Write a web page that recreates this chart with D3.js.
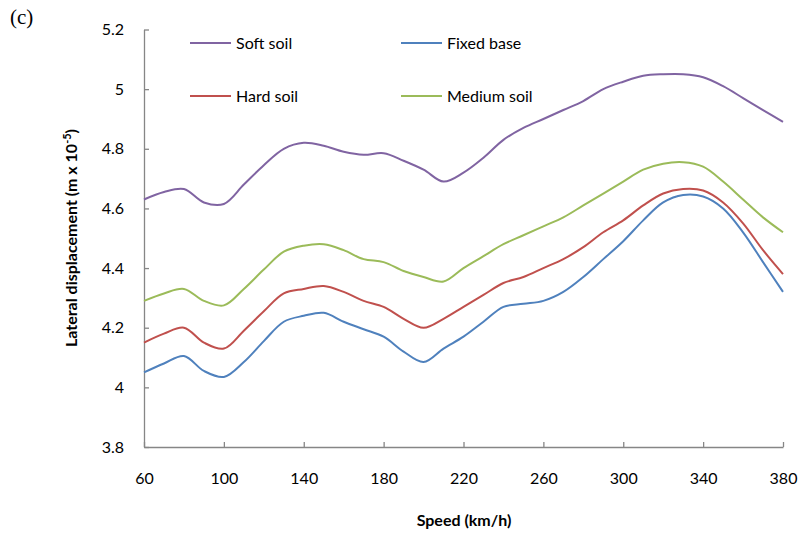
<!DOCTYPE html>
<html>
<head>
<meta charset="utf-8">
<script src="https://cdn.jsdelivr.net/npm/d3@7"></script>
<style>
  body { margin: 0; background: #fff; }
  text { font-family: Lato, "Open Sans", sans-serif; }
</style>
</head>
<body>
<svg id="chart" width="803" height="538"></svg>
<script>
const speeds = [60, 70, 80, 90, 100, 110, 120, 130, 140, 150, 160, 170, 180, 190, 200, 210, 220,
  230, 240, 250, 260, 270, 280, 290, 300, 310, 320, 330, 340, 350, 360, 370, 380];

const softSoil = [4.63, 4.655, 4.665, 4.62, 4.615, 4.68, 4.745, 4.80, 4.82, 4.81, 4.79, 4.78, 4.785,
  4.76, 4.73, 4.69, 4.72, 4.77, 4.83, 4.87, 4.90, 4.93, 4.96, 5.00, 5.025, 5.045, 5.05, 5.05,
  5.04, 5.01, 4.97, 4.93, 4.89];
const fixedBase = [4.05, 4.08, 4.105, 4.055, 4.035, 4.085, 4.155, 4.22, 4.24, 4.25, 4.22, 4.195, 4.17,
  4.12, 4.085, 4.13, 4.17, 4.22, 4.27, 4.28, 4.29, 4.32, 4.37, 4.43, 4.49, 4.56, 4.62, 4.645,
  4.64, 4.6, 4.52, 4.42, 4.32];
const hardSoil = [4.15, 4.18, 4.20, 4.15, 4.13, 4.19, 4.255, 4.315, 4.33, 4.34, 4.32, 4.29, 4.27,
  4.23, 4.20, 4.23, 4.27, 4.31, 4.35, 4.37, 4.40, 4.43, 4.47, 4.52, 4.56, 4.61, 4.65, 4.665,
  4.66, 4.62, 4.55, 4.46, 4.38];
const mediumSoil = [4.29, 4.315, 4.33, 4.29, 4.275, 4.33, 4.395, 4.455, 4.475, 4.48, 4.46, 4.43, 4.42,
  4.39, 4.37, 4.355, 4.40, 4.44, 4.48, 4.51, 4.54, 4.57, 4.61, 4.65, 4.69, 4.73, 4.75, 4.755,
  4.74, 4.69, 4.63, 4.57, 4.52];

const xTicks = [60, 100, 140, 180, 220, 260, 300, 340, 380];
const yTicks = [3.8, 4, 4.2, 4.4, 4.6, 4.8, 5, 5.2];

const series = [
  { name: "Soft soil", values: softSoil, color: "#8064A2" },
  { name: "Fixed base", values: fixedBase, color: "#4F81BD" },
  { name: "Hard soil", values: hardSoil, color: "#C0504D" },
  { name: "Medium soil", values: mediumSoil, color: "#9BBB59" }
];

const svg = d3.select("#chart");
const margin = { left: 144, right: 20, top: 29.5, bottom: 91 };
const width = 803, height = 538;

const x = d3.scaleLinear().domain([60, 380]).range([margin.left, width - margin.right]);
const y = d3.scaleLinear().domain([3.8, 5.2]).range([height - margin.bottom, margin.top]);

// axes (ticks point inward, like the original)
const xAxis = svg.append("g")
  .attr("transform", "translate(0," + y(3.8) + ")")
  .call(d3.axisBottom(x).tickValues(xTicks).tickSize(-5).tickSizeOuter(0).tickPadding(26));
const yAxis = svg.append("g")
  .attr("transform", "translate(" + x(60) + ",0)")
  .call(d3.axisLeft(y).tickValues(yTicks).tickSize(-5).tickSizeOuter(0).tickPadding(20)
    .tickFormat(d => String(d)));

[xAxis, yAxis].forEach(a => {
  a.select(".domain").attr("stroke", "#868686").attr("stroke-width", 1.3);
  a.selectAll(".tick line").attr("stroke", "#868686").attr("stroke-width", 1.3);
  a.selectAll(".tick text").attr("fill", "#000").style("font-size", "16px")
    .style("font-family", "Lato, 'Open Sans', sans-serif");
});

// lines
const line = d3.line()
  .x((d, i) => x(speeds[i]))
  .y(d => y(d))
  .curve(d3.curveCatmullRom.alpha(0.5));

svg.append("g").selectAll("path")
  .data(series)
  .enter()
  .append("path")
  .attr("d", d => line(d.values))
  .attr("fill", "none")
  .attr("stroke", d => d.color)
  .attr("stroke-width", 2);

// legend
const legendPos = [[190, 43], [401, 43], [190, 96], [401, 96]];
const legend = svg.append("g").selectAll("g")
  .data(series)
  .enter()
  .append("g")
  .attr("transform", (d, i) => "translate(" + legendPos[i][0] + "," + legendPos[i][1] + ")");
legend.append("line")
  .attr("x1", 0).attr("x2", 41)
  .attr("stroke", d => d.color).attr("stroke-width", 2);
legend.append("text")
  .attr("x", 46).attr("dy", "0.35em")
  .style("font-size", "16px")
  .text(d => d.name);

// axis titles
svg.append("text")
  .attr("x", 464).attr("y", 526)
  .attr("text-anchor", "middle")
  .style("font-size", "16px").style("font-weight", "bold")
  .text("Speed (km/h)");

const yTitle = svg.append("text")
  .attr("transform", "translate(77,238) rotate(-90)")
  .attr("text-anchor", "middle")
  .style("font-size", "16px").style("font-weight", "bold");
yTitle.append("tspan").text("Lateral displacement (m x 10");
yTitle.append("tspan").attr("baseline-shift", "super").style("font-size", "11px").text("-5");
yTitle.append("tspan").text(")");

// panel label
svg.append("text")
  .attr("x", 10).attr("y", 24)
  .style("font-family", "'Liberation Serif', serif")
  .style("font-size", "21px")
  .text("(c)");
</script>
</body>
</html>
